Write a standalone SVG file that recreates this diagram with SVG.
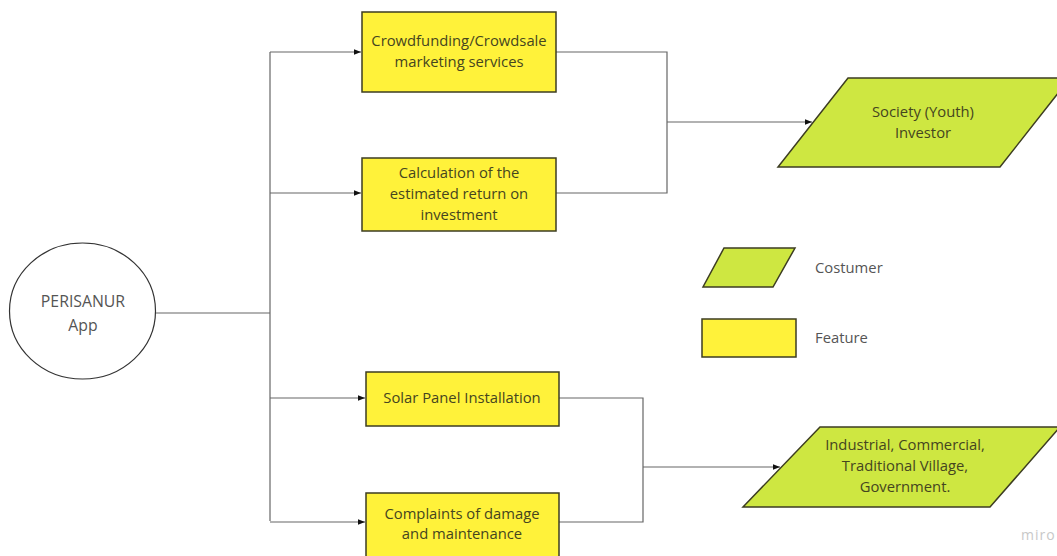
<svg xmlns="http://www.w3.org/2000/svg" width="1057" height="556" viewBox="0 0 1057 556">
<defs>
<style>
.box{fill:#fff23a;stroke:#3d3d22;stroke-width:1.5}
.cust{fill:#cee741;stroke:#3d3d22;stroke-width:1.5}
.lbl{font-family:"Open Sans","Noto Sans",sans-serif;font-size:14.8px;fill:#45451f;text-anchor:middle}
.leg{font-family:"Open Sans","Noto Sans",sans-serif;font-size:14.8px;fill:#555}
.wire{fill:none;stroke:#666;stroke-width:1.2}
</style>
<marker id="arr" viewBox="0 0 10 10" refX="10" refY="5" markerWidth="9" markerHeight="7" markerUnits="userSpaceOnUse" orient="auto">
<path d="M0,1 L10,5 L0,9 Z" fill="#111"/>
</marker>
</defs>
<rect width="1057" height="556" fill="#fff"/>
<g id="connectors">
<path class="wire" d="M156,313 H270"/>
<path class="wire" d="M270,52 V521"/>
<path class="wire" d="M270,52 H361" marker-end="url(#arr)"/>
<path class="wire" d="M270,193 H361" marker-end="url(#arr)"/>
<path class="wire" d="M270,398 H365" marker-end="url(#arr)"/>
<path class="wire" d="M270,522 H365" marker-end="url(#arr)"/>
<path class="wire" d="M556,52 H667 V193 H556"/>
<path class="wire" d="M667,122 H812" marker-end="url(#arr)"/>
<path class="wire" d="M559,398 H643 V522 H559"/>
<path class="wire" d="M643,467 H780" marker-end="url(#arr)"/>
</g>
<g id="app">
<ellipse cx="82.5" cy="311" rx="73" ry="68" fill="#fff" stroke="#333" stroke-width="1.2"/>
<text class="leg" x="83" y="307" text-anchor="middle" style="font-size:15.8px">PERISANUR</text>
<text class="leg" x="83" y="331" text-anchor="middle" style="font-size:15.8px">App</text>
</g>
<g id="crowdfunding">
<rect class="box" x="362" y="12" width="194" height="80"/>
<text class="lbl" x="459" y="46">Crowdfunding/Crowdsale</text>
<text class="lbl" x="459" y="67">marketing services</text>
</g>
<g id="calculation">
<rect class="box" x="362" y="158" width="194" height="73"/>
<text class="lbl" x="459" y="178">Calculation of the</text>
<text class="lbl" x="459" y="199">estimated return on</text>
<text class="lbl" x="459" y="220">investment</text>
</g>
<g id="solar">
<rect class="box" x="366" y="372" width="193" height="54"/>
<text class="lbl" x="462" y="403">Solar Panel Installation</text>
</g>
<g id="complaints">
<rect class="box" x="366" y="493" width="193" height="70"/>
<text class="lbl" x="462" y="519">Complaints of damage</text>
<text class="lbl" x="462" y="539">and maintenance</text>
</g>
<g id="society">
<polygon class="cust" points="848,78 1070,78 1000,167 778,167"/>
<text class="lbl" x="923" y="117">Society (Youth)</text>
<text class="lbl" x="923" y="138">Investor</text>
</g>
<g id="industrial">
<polygon class="cust" points="820,427 1060,427 990,507 743,507"/>
<text class="lbl" x="905" y="450">Industrial, Commercial,</text>
<text class="lbl" x="905" y="471">Traditional Village,</text>
<text class="lbl" x="905" y="492">Government.</text>
</g>
<g id="legend-costumer">
<polygon class="cust" points="724,248 795,248 773,287 703,287"/>
<text class="leg" x="815" y="273">Costumer</text>
</g>
<g id="legend-feature">
<rect class="box" x="702" y="319" width="94" height="38"/>
<text class="leg" x="815" y="343">Feature</text>
</g>
<text x="1021" y="540" font-family="'Open Sans',sans-serif" font-size="14" fill="#c8c8c8" letter-spacing="1">miro</text>
</svg>
